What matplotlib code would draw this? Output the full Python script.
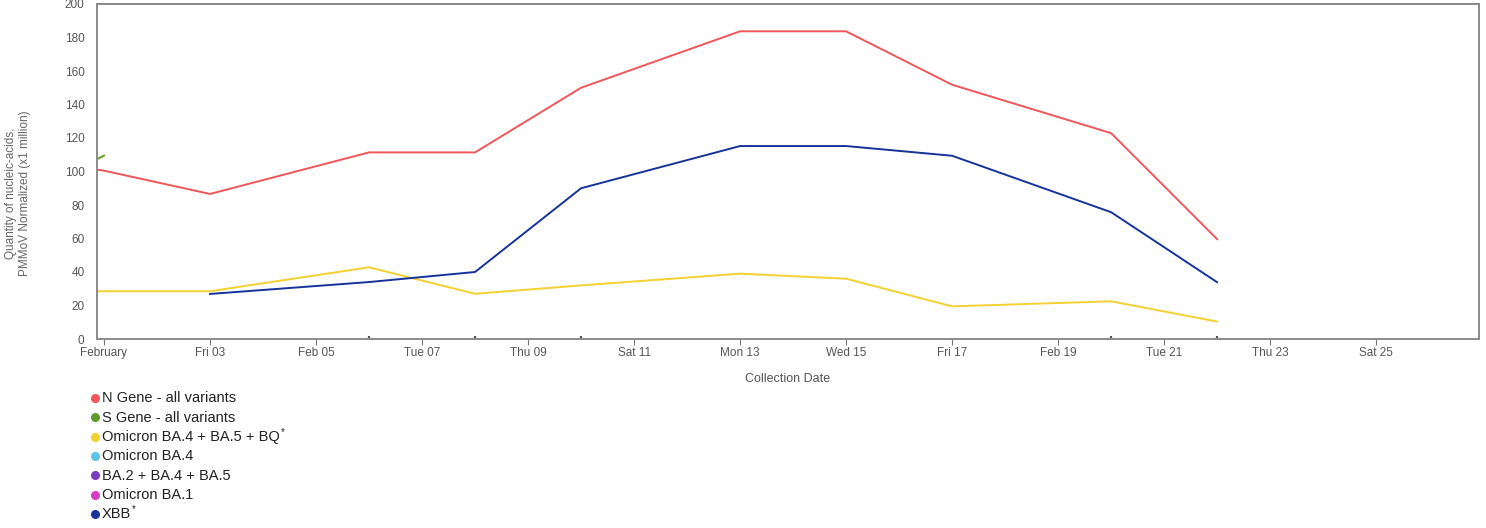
import datetime as dt
import matplotlib
matplotlib.use("Agg")
import matplotlib.pyplot as plt
import matplotlib.dates as mdates
from matplotlib.lines import Line2D

plt.rcParams['font.family'] = ['Liberation Sans', 'DejaVu Sans']

# Sample collection dates (the first one sits just left of the visible window)
dates = ["2023-01-29", "2023-02-01", "2023-02-03", "2023-02-06", "2023-02-08",
         "2023-02-10", "2023-02-13", "2023-02-15", "2023-02-17", "2023-02-20",
         "2023-02-22"]

n_gene = [114, 100.5, 86.6, 111.4, 111.4, 150, 183.7, 183.7, 151.8, 122.9, 59.6]
s_gene = [62, 109.5, None, None, None, None, None, None, None, None, None]
ba4_ba5_bq = [28.5, 28.5, 28.5, 42.8, 27.0, 32.0, 39.0, 36.0, 19.5, 22.5, 10.4]
omicron_ba4 = [None] * 11
ba2_ba4_ba5 = [None] * 11
omicron_ba1 = [None] * 11
xbb = [None, None, 26.9, 34.0, 40.0, 90.0, 115.2, 115.2, 109.4, 75.7, 33.9]

series_labels = ["N Gene - all variants", "S Gene - all variants",
                 "Omicron BA.4 + BA.5 + BQ*", "Omicron BA.4",
                 "BA.2 + BA.4 + BA.5", "Omicron BA.1", "XBB*"]
series_values = [n_gene, s_gene, ba4_ba5_bq, omicron_ba4, ba2_ba4_ba5,
                 omicron_ba1, xbb]
series_colors = ["#f0565a", "#5f9a2e", "#f2d130", "#5cc3e8", "#7a3cc0",
                 "#d83cc6", "#16339a"]

tick_dates = ["2023-02-01", "2023-02-03", "2023-02-05", "2023-02-07",
              "2023-02-09", "2023-02-11", "2023-02-13", "2023-02-15",
              "2023-02-17", "2023-02-19", "2023-02-21", "2023-02-23",
              "2023-02-25"]
tick_labels = ["February", "Fri 03", "Feb 05", "Tue 07", "Thu 09", "Sat 11",
               "Mon 13", "Wed 15", "Fri 17", "Feb 19", "Tue 21", "Thu 23",
               "Sat 25"]
y_ticks = [0, 20, 40, 60, 80, 100, 120, 140, 160, 180, 200]

W, H = 1486, 528


def to_num(s):
    return mdates.date2num(dt.datetime.strptime(s, "%Y-%m-%d"))


x = [to_num(d) for d in dates]

fig = plt.figure(figsize=(W / 100, H / 100), dpi=100)
ax = fig.add_axes([97 / W, 1 - 339 / H, 1382 / W, 335 / H])

for vals, col in zip(series_values, series_colors):
    xs = [xi for xi, v in zip(x, vals) if v is not None]
    ys = [v for v in vals if v is not None]
    if xs:
        ax.plot(xs, ys, color=col, lw=1.4, solid_joinstyle='round')

x0 = to_num("2023-02-01")
ax.set_xlim(x0 - 0.132, x0 + 25.94)
ax.set_ylim(0, 200)

ax.set_xticks([to_num(d) for d in tick_dates])
ax.set_xticklabels(tick_labels)
# small marks along the axis at each collection date
ax.set_xticks([to_num(d) for d in dates[1:]], minor=True)
ax.tick_params(axis='x', which='major', length=4, width=0.8, color='#777777',
               labelsize=8.5, labelcolor='#555555', pad=2)
ax.tick_params(axis='x', which='minor', direction='in', length=2.5,
               width=1.6, color='#555555')
ax.set_yticks(y_ticks)
ax.tick_params(axis='y', length=0, labelsize=8.5, labelcolor='#555555', pad=9)

for sp in ax.spines.values():
    sp.set_color('#8a8a8a')
    sp.set_linewidth(1.4)

ax.set_xlabel("Collection Date", fontsize=9, color='#555555', labelpad=10)
ax.set_ylabel("Quantity of nucleic-acids,\nPMMoV Normalized (x1 million)",
              fontsize=8.5, color='#666666', linespacing=1.2)
ax.yaxis.set_label_coords(-0.0478, 0.436)

# Legend: one coloured dot and label per series, stacked below the plot;
# a trailing asterisk is set as a small raised mark
renderer = fig.canvas.get_renderer()
row_top, row_step = 398, 19.3
for i, (lab, col) in enumerate(zip(series_labels, series_colors)):
    yc = 1 - (row_top + i * row_step) / H
    fig.add_artist(Line2D([95 / W], [yc], transform=fig.transFigure,
                          marker='o', ls='none', markersize=5.5,
                          color=col))
    star = lab.endswith("*")
    main = lab[:-1] if star else lab
    t = fig.text(102 / W, yc - 4.5 / H, main, fontsize=10.5,
                 color='#222222', va='baseline', ha='left')
    if star:
        bb = t.get_window_extent(renderer=renderer)
        fig.text(bb.x1 / W + 1 / W, yc + 1.5 / H, "*", fontsize=7,
                 color='#222222', va='baseline', ha='left')

fig.savefig("out.png", dpi=100, facecolor='white')
